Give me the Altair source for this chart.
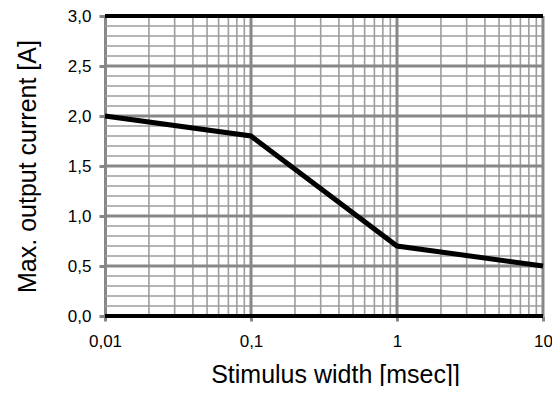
import altair as alt
import pandas as pd

# Series
width_ms = [0.01, 0.1, 1, 10]
current_a = [2.0, 1.8, 0.7, 0.5]

# Axis tick values
x_ticks = [0.01, 0.1, 1, 10]
y_ticks = [0.0, 0.5, 1.0, 1.5, 2.0, 2.5, 3.0]

# Grid values
x_minor = [m * d for d in [0.01, 0.1, 1] for m in range(2, 10)]
x_major = [0.1, 1, 10]
y_minor = [round(i * 0.1, 1) for i in range(1, 30) if i % 5 != 0]
y_major = [0.5, 1.0, 1.5, 2.0, 2.5]
y_black = [0.0, 3.0]

FONT = "Liberation Sans"
GRID_THICK = "#878787"
GRID_THIN = "#9c9c9c"

xscale = alt.Scale(type="log", domain=[0.01, 10], nice=False)
yscale = alt.Scale(domain=[0, 3], nice=False)

XAXIS = alt.Axis(values=x_ticks, grid=False, domain=False,
                 tickColor=GRID_THICK, tickWidth=3, tickSize=5,
                 labelExpr="replace(toString(datum.value), '.', ',')",
                 labelFont=FONT, labelFontSize=17, labelColor="black",
                 labelPadding=12, labelFlush=False,
                 title="Stimulus width [msec]]", titleFont=FONT,
                 titleFontSize=25, titleFontWeight="normal",
                 titleColor="black", titleX=230, titleY=66,
                 titleAlign="center", titleBaseline="alphabetic")
YAXIS = alt.Axis(values=y_ticks, grid=False, domain=True,
                 domainColor=GRID_THICK, domainWidth=3,
                 tickColor=GRID_THICK, tickWidth=3, tickSize=6,
                 labelExpr="replace(format(datum.value, '.1f'), '.', ',')",
                 labelFont=FONT, labelFontSize=17, labelColor="black",
                 labelPadding=8, labelFlush=False,
                 title="Max. output current [A]", titleFont=FONT,
                 titleFontSize=25, titleFontWeight="normal",
                 titleColor="black", titleX=-78, titleY=150,
                 titleAlign="center", titleBaseline="middle")

series = pd.DataFrame({"w": width_ms, "c": current_a})

line = alt.Chart(series).mark_line(color="black", strokeWidth=5).encode(
    x=alt.X("w:Q", scale=xscale, axis=XAXIS),
    y=alt.Y("c:Q", scale=yscale, axis=YAXIS),
)

def vrules(vals, color, w):
    return alt.Chart(pd.DataFrame({"v": vals})).mark_rule(color=color, strokeWidth=w).encode(
        x=alt.X("v:Q", scale=xscale, axis=XAXIS),
        y=alt.datum(0, scale=yscale, axis=YAXIS),
        y2=alt.datum(3),
    )

def hrules(vals, color, w):
    return alt.Chart(pd.DataFrame({"v": vals})).mark_rule(color=color, strokeWidth=w).encode(
        y=alt.Y("v:Q", scale=yscale, axis=YAXIS),
        x=alt.datum(0.01, scale=xscale, axis=XAXIS),
        x2=alt.datum(10),
    )

chart = alt.layer(
    vrules(x_minor, GRID_THIN, 1.6),
    hrules(y_minor, GRID_THIN, 1.6),
    vrules(x_major, GRID_THICK, 3),
    hrules(y_major, GRID_THICK, 3),
    hrules(y_black, "black", 4),
    line,
).properties(
    width=438, height=300,
    autosize=alt.AutoSizeParams(type="none"),
    padding={"left": 97, "top": 8, "right": 9, "bottom": 70},
).configure_view(strokeWidth=0)

chart.save("out.html", embed_options={"renderer": "svg", "actions": False})
